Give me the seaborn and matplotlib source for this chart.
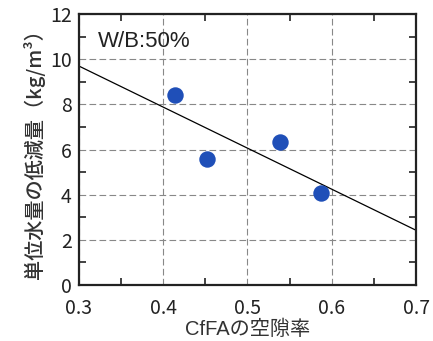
import numpy as np
import pandas as pd
import seaborn as sns
import matplotlib.pyplot as plt
from matplotlib.ticker import MultipleLocator

# data
void_ratio = [0.414, 0.452, 0.539, 0.587]
water_reduction = [8.41, 5.58, 6.33, 4.07]

x_ticks = [0.3, 0.4, 0.5, 0.6, 0.7]
y_ticks = [0, 2, 4, 6, 8, 10, 12]

df = pd.DataFrame({"x": void_ratio, "y": water_reduction})

sns.set_style("ticks")
plt.rcParams['font.family'] = ['Liberation Sans Narrow', 'Noto Sans CJK JP', 'DejaVu Sans']

fig = plt.figure(figsize=(4.33, 3.41), dpi=100)
ax = fig.add_axes([0.182, 0.164, 0.779, 0.795])
ax.set_xlim(0.3, 0.7)
ax.set_ylim(0, 12)

sns.regplot(data=df, x="x", y="y", ax=ax, ci=None, truncate=False,
            scatter_kws={"s": 140, "color": "#1f4fb8", "zorder": 3, "linewidths": 0, "alpha": 1},
            line_kws={"color": "black", "linewidth": 0.9})

ax.set_xlim(0.3, 0.7)
ax.set_ylim(0, 12)
ax.set_xticks(x_ticks)
ax.set_yticks(y_ticks)
ax.set_xticklabels([str(v) for v in x_ticks], fontsize=14)
ax.set_yticklabels([str(v) for v in y_ticks], fontsize=14)
ax.xaxis.set_minor_locator(MultipleLocator(0.05))
ax.yaxis.set_minor_locator(MultipleLocator(1))
ax.tick_params(which="both", direction="in", top=True, right=True, colors="#222222")
ax.tick_params(axis="x", which="major", length=0, pad=9)
ax.tick_params(axis="y", which="major", length=0, pad=5)
ax.tick_params(which="minor", length=5, width=1.2)
ax.grid(which="major", linestyle=(0, (6, 3)), color="#888888", linewidth=0.8)
for s in ax.spines.values():
    s.set_linewidth(1.6)
    s.set_color("#222222")

ax.text(0.3226, 10.8, "W/B:50%", fontsize=16, family=['Liberation Sans', 'DejaVu Sans'],
        va="center", ha="left", color="#222222")

ax.set_xlabel("CfFAの空隙率", fontsize=14.5, family=['Liberation Sans', 'Noto Sans CJK JP'],
              color="#333333", labelpad=1)
ax.set_ylabel("単位水量の低減量（kg/m³）", fontsize=14.5, family=['Noto Sans CJK JP', 'DejaVu Sans'],
              fontweight="medium", color="#333333", labelpad=4)

fig.savefig("out.png", dpi=100)
